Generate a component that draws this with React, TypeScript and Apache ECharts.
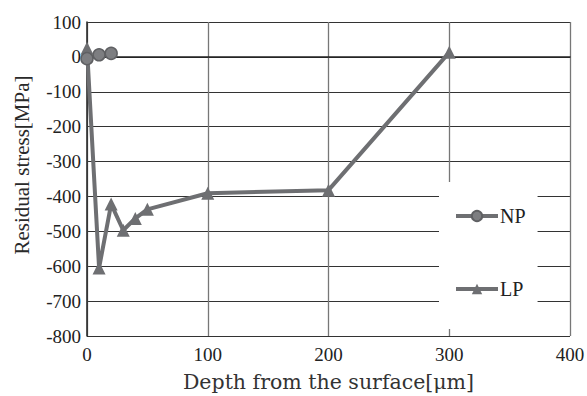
import React, { useEffect, useRef } from "react";
import * as echarts from "echarts";

const npDepth = [0, 10, 20];
const npStress = [-5, 6, 10];
const lpDepth = [0, 10, 20, 30, 40, 50, 100, 200, 300];
const lpStress = [25, -605, -422, -497, -463, -437, -391, -382, 13];
const seriesNames = ["NP", "LP"];
const xTitle = "Depth from the surface[μm]";
const yTitle = "Residual stress[MPa]";

export default function App() {
  const ref = useRef<HTMLDivElement>(null);
  useEffect(() => {
    const chart = echarts.init(ref.current!, null, { renderer: "svg" });
    const tickFont = "Liberation Serif";
    const titleFont = "DejaVu Serif";
    const lineColor = "#6e6f72";
    chart.setOption({
      animation: false,
      textStyle: { fontFamily: tickFont },
      grid: { left: 87, right: 17, top: 22, bottom: 60, containLabel: false, outerBoundsMode: "none" },
      graphic: [
        {
          type: "text",
          x: 22,
          y: 165,
          rotation: Math.PI / 2,
          style: {
            text: yTitle,
            fontFamily: tickFont,
            fontSize: 21,
            fill: "#2a2a2a",
            align: "center",
            verticalAlign: "middle",
          },
        },
      ],
      xAxis: {
        type: "value",
        min: 0,
        max: 400,
        interval: 100,
        name: xTitle,
        nameLocation: "middle",
        nameGap: 35,
        nameTextStyle: { fontFamily: titleFont, fontSize: 20.5, color: "#333" },
        axisLine: { show: true, lineStyle: { color: "#222", width: 1.5 } },
        axisTick: { show: false },
        axisLabel: { fontFamily: tickFont, fontSize: 19, color: "#222", margin: 9 },
        splitLine: { show: true, lineStyle: { color: "#777", width: 1.3 } },
      },
      yAxis: {
        type: "value",
        min: -800,
        max: 100,
        interval: 100,
        axisLine: { show: true, lineStyle: { color: "#222", width: 1.5 } },
        axisTick: { show: false },
        axisLabel: { fontFamily: tickFont, fontSize: 19, color: "#222", margin: 6 },
        splitLine: { show: true, lineStyle: { color: "#333", width: 1.2 } },
      },
      legend: {
        orient: "vertical",
        left: 439,
        top: 182,
        backgroundColor: "#fff",
        padding: [24, 12, 30, 15],
        itemGap: 53,
        itemWidth: 42,
        itemHeight: 13,
        lineStyle: { width: 4, color: lineColor },
        textStyle: { fontFamily: tickFont, fontSize: 20, color: "#222", padding: [0, 0, 0, -3] },
        data: seriesNames,
      },
      series: [
        {
          name: seriesNames[0],
          type: "line",
          data: npDepth.map((d, i) => [d, npStress[i]]),
          symbol: "circle",
          symbolSize: 12,
          lineStyle: { color: lineColor, width: 4 },
          itemStyle: { color: "#7d7e81", borderColor: "#5f6063", borderWidth: 1.5 },
          color: lineColor,
          z: 3,
        },
        {
          name: seriesNames[1],
          type: "line",
          data: lpDepth.map((d, i) => [d, lpStress[i]]),
          symbol: "triangle",
          symbolSize: 13,
          lineStyle: { color: lineColor, width: 4 },
          itemStyle: { color: lineColor },
          color: lineColor,
          z: 2,
        },
      ],
    });
    return () => chart.dispose();
  }, []);
  return <div ref={ref} style={{ width: 587, height: 396, position: "absolute", left: 0, top: 0, background: "#fff" }} />;
}
